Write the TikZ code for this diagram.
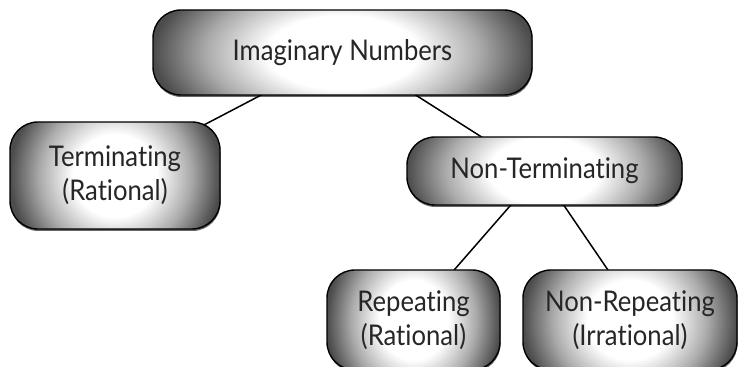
\documentclass[tikz,border=0pt]{standalone}
\usepackage{fontspec}
\setmainfont{Lato}[FakeStretch=0.9,Ligatures=NoCommon]
\usepackage{tikz}
\usetikzlibrary{shadows,backgrounds}

\pgfdeclareradialshading{boxshade}{\pgfpoint{0bp}{0bp}}{color(0bp)=(white); color(10bp)=(white); color(18bp)=(black!33); color(25bp)=(black!70); color(50bp)=(black!80)}

\begin{document}
\begin{tikzpicture}[x=1pt,y=1pt,
numbox/.style={draw=black,line width=1.4pt,rounded corners=28pt,
	align=center,text=black!85,font=\fontsize{28.5}{34}\selectfont,
	drop shadow={shadow xshift=0.5pt,shadow yshift=-2pt,opacity=0.6,fill=black},
	path picture={\shade[shading=boxshade] ([yshift=-50pt]path picture bounding box.south west) rectangle ([yshift=50pt]path picture bounding box.north east);}},
link/.style={line width=1.5pt,draw=black}]
\useasboundingbox (0,0) rectangle (740,367);
\clip (0,0) rectangle (740,367);

\node[numbox,minimum width=379pt,minimum height=85pt] (imag) at (342.5,314.5) {Imaginary Numbers};
\node[numbox,minimum width=210pt,minimum height=107pt] (term) at (115,191.5) {Terminating\\(Rational)};
\node[numbox,minimum width=275pt,minimum height=68pt] (nonterm) at (544.5,196) {Non-Terminating};
\node[numbox,minimum width=173pt,minimum height=100pt] (rep) at (413.5,47) {Repeating\\(Rational)};
\node[numbox,minimum width=214pt,minimum height=100pt] (nonrep) at (630,47) {Non-Repeating\\(Irrational)};

\begin{scope}[on background layer]
\draw[link] (imag.center) -- ([yshift=4]term.center);
\draw[link] ([yshift=4]imag.center) -- ([yshift=-6]nonterm.center);
\draw[link] ([xshift=-4]nonterm.center) -- ([xshift=-3]rep.center);
\draw[link] ([xshift=-4]nonterm.center) -- ([xshift=12]nonrep.center);
\end{scope}
\end{tikzpicture}
\end{document}
